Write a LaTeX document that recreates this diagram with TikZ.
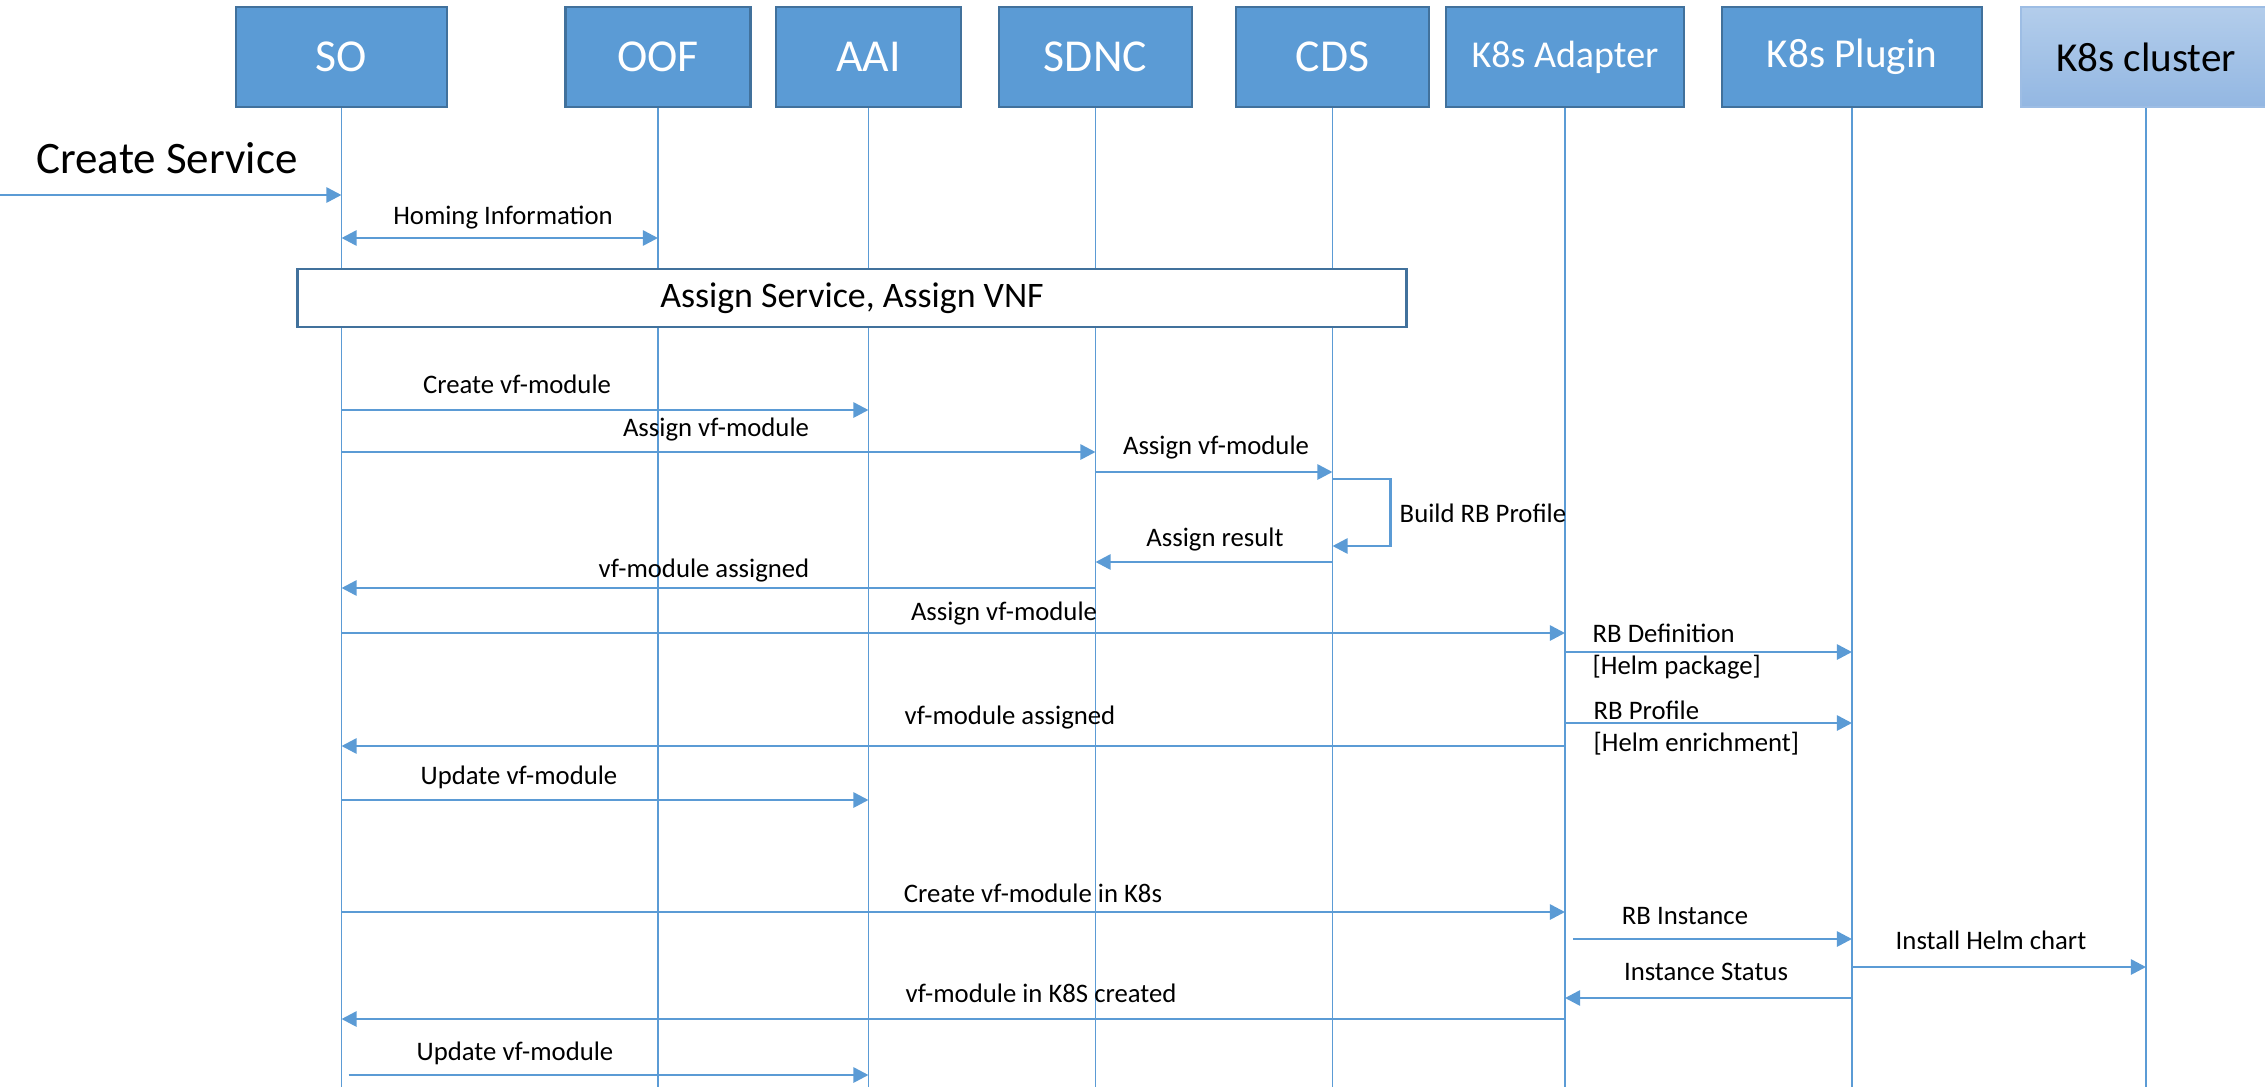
\documentclass[tikz,border=0pt]{standalone}
\usepackage{fontspec}
\setmainfont{Carlito}
\usetikzlibrary{arrows.meta}
\definecolor{boxblue}{HTML}{5B9BD5}
\definecolor{boxedge}{HTML}{41719C}
\definecolor{lighttop}{HTML}{B3CDEB}
\definecolor{lightbot}{HTML}{93B7E2}
\definecolor{lightedge}{HTML}{9DBDE4}
\tikzset{
  part/.style={draw=boxedge, line width=0.7pt, fill=boxblue, text=white, inner sep=0pt,
    minimum height=1cm, font=\fontsize{13}{15}\selectfont},
  lightpart/.style={part, draw=lightedge, top color=lighttop, bottom color=lightbot, text=black},
  phase/.style={draw=boxedge, line width=0.8pt, fill=white, inner sep=0pt,
    minimum width=11.08cm, minimum height=0.58cm, font=\fontsize{10.2}{12}\selectfont},
  big/.style={inner sep=0pt, font=\fontsize{12.8}{15}\selectfont},
  lbl/.style={inner sep=0pt, font=\fontsize{7.6}{9}\selectfont},
  life/.style={boxblue, line width=0.3pt},
  msg/.style={boxblue, line width=0.75pt, -{Triangle[length=4.3pt,width=4.3pt]}}
}
\begin{document}
\begin{tikzpicture}[x=0.01cm, y=-0.01cm]
  \useasboundingbox (0,0) rectangle (2265,1087);
  \draw
    (341.5,57) node[part, minimum width=2.11cm] (so){SO}
    (658,57) node[part, minimum width=1.85cm] (oof){OOF}
    (868.5,57) node[part, minimum width=1.85cm] (aai){AAI}
    (1095.5,57) node[part, minimum width=1.93cm] (sdnc){SDNC}
    (1332.5,57) node[part, minimum width=1.93cm] (cds){CDS}
    (1565,57) node[part, minimum width=2.38cm, font=\fontsize{10.8}{13}\selectfont] (adapter){K8s Adapter}
    (1852,57) node[part, minimum width=2.6cm, font=\fontsize{11.7}{14}\selectfont] (plugin){K8s Plugin}
    (2146,57) node[lightpart, minimum width=2.5cm, font=\fontsize{11.7}{14}\selectfont] (cluster){K8s cluster};
  \begin{scope}[life]
    \draw (so.south) -- (so.south |- 0,1087);
    \draw (oof.south) -- (oof.south |- 0,1087);
    \draw (aai.south) -- (aai.south |- 0,1087);
    \draw (sdnc.south) -- (sdnc.south |- 0,1087);
    \draw (cds.south) -- (cds.south |- 0,1087);
    \draw (adapter.south) -- (adapter.south |- 0,1087);
    \draw (plugin.south) -- (plugin.south |- 0,1087);
    \draw (cluster.south) -- (cluster.south |- 0,1087);
  \end{scope}
  \node[phase] (assign) at (852,298) {Assign Service, Assign VNF};
  \coordinate (client) at (0,195);
  \node[big] (create) at (167,158) {Create Service};
  \node[lbl] (homing) at (503,218) {Homing Information};
  \node[lbl] (l1) at (517,384) {Create vf-module};
  \node[lbl] (l2) at (716,430) {Assign vf-module};
  \node[lbl] (l3) at (1216,448) {Assign vf-module};
  \node[lbl, anchor=west] (l4) at (1399,513) {Build RB Profile};
  \node[lbl] (l5) at (1215,540) {Assign result};
  \node[lbl] (l6) at (704,571) {vf-module assigned};
  \node[lbl] (l7) at (1004,614) {Assign vf-module};
  \node[lbl, anchor=west] (l8) at (1592,633) {RB Definition};
  \node[lbl, anchor=west] (l8b) at (1592,667) {[Helm package]};
  \node[lbl, anchor=west] (l9) at (1593,710) {RB Profile};
  \node[lbl, anchor=west] (l9b) at (1593,744) {[Helm enrichment]};
  \node[lbl] (l10) at (1010,718) {vf-module assigned};
  \node[lbl] (l11) at (519,777) {Update vf-module};
  \node[lbl] (l12) at (1033,893) {Create vf-module in K8s};
  \node[lbl] (l13) at (1685,916) {RB Instance};
  \node[lbl] (l14) at (1991,940) {Install Helm chart};
  \node[lbl] (l15) at (1706,972) {Instance Status};
  \node[lbl] (l16) at (1041,993) {vf-module in K8S created};
  \node[lbl] (l17) at (515,1053) {Update vf-module};
  \begin{scope}[msg]
    \draw (client) -- (so |- client);
    \draw[{Triangle[length=4.3pt,width=4.3pt]}-{Triangle[length=4.3pt,width=4.3pt]}] (so |- 0,238) -- (oof |- 0,238);
    \draw (so |- 0,410) -- (aai |- 0,410);
    \draw (so |- 0,452) -- (sdnc |- 0,452);
    \draw (sdnc |- 0,472) -- (cds |- 0,472);
    \draw (cds |- 0,479) -- ++(58,0) |- (cds |- 0,546);
    \draw (cds |- 0,562) -- (sdnc |- 0,562);
    \draw (sdnc |- 0,588) -- (so |- 0,588);
    \draw (so |- 0,633) -- (adapter |- 0,633);
    \draw (adapter |- 0,652) -- (plugin |- 0,652);
    \draw (adapter |- 0,723) -- (plugin |- 0,723);
    \draw (adapter |- 0,746) -- (so |- 0,746);
    \draw (so |- 0,800) -- (aai |- 0,800);
    \draw (so |- 0,912) -- (adapter |- 0,912);
    \draw ([xshift=2.3pt]adapter |- 0,939) -- (plugin |- 0,939);
    \draw (plugin |- 0,967) -- (cluster |- 0,967);
    \draw (plugin |- 0,998) -- (adapter |- 0,998);
    \draw (adapter |- 0,1019) -- (so |- 0,1019);
    \draw ([xshift=2pt]so |- 0,1075) -- (aai |- 0,1075);
  \end{scope}
\end{tikzpicture}
\end{document}
